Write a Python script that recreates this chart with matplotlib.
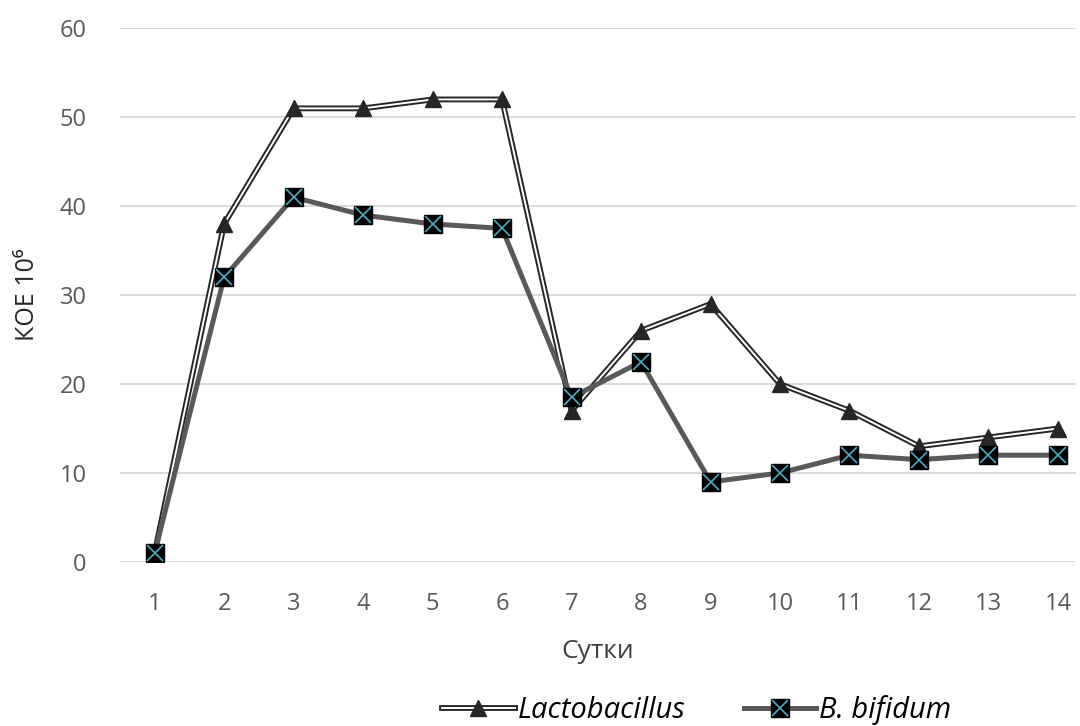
import matplotlib.pyplot as plt
from matplotlib.lines import Line2D
from matplotlib.legend_handler import HandlerTuple

days = list(range(1, 15))
lacto = [1, 38, 51, 51, 52, 52, 17, 26, 29, 20, 17, 13, 14, 15]
bifid = [1, 32, 41, 39, 38, 37.5, 18.5, 22.5, 9, 10, 12, 11.5, 12, 12]
yticks = [0, 10, 20, 30, 40, 50, 60]

plt.rcParams['font.family'] = ['Open Sans', 'DejaVu Sans']

fig = plt.figure(figsize=[10.8, 7.26], dpi=100)
ax = fig.add_axes([0.111, 0.226, 0.885, 0.735])

# Lactobacillus: double line (dark outer, white inner) with triangles
ax.plot(days, lacto, color='#262626', lw=4.2, zorder=3, solid_joinstyle='miter')
ax.plot(days, lacto, color='white', lw=1.4, zorder=4, solid_joinstyle='miter')
ax.plot(days, lacto, ls='none', marker='^', ms=12, color='#262626', zorder=5)

# B. bifidum: gray line with black square and teal cross
ax.plot(days, bifid, color='#595959', lw=3.6, zorder=6)
ax.plot(days, bifid, ls='none', marker='s', ms=13, color='black', zorder=7)
ax.plot(days, bifid, ls='none', marker='x', ms=11, mew=1.2, color='#4bacc6', zorder=8)

ax.set_xlim(0.5, 14.255)
ax.set_ylim(0, 60)
ax.set_xticks(days)
ax.set_yticks(yticks)
ax.tick_params(length=0, labelsize=17, labelcolor='#595959', pad=24)
ax.tick_params(axis='x', pad=22)
ax.grid(axis='y', color='#d4d4d4', lw=1.2)
ax.set_axisbelow(True)
for s in ax.spines.values():
    s.set_visible(False)

ax.set_xlabel('Сутки', fontsize=19, color='#404040', labelpad=16)
ax.set_ylabel('КОЕ 10⁶', fontsize=18, color='#262626', labelpad=14)

h1 = (Line2D([], [], color='#262626', lw=4.2),
      Line2D([], [], color='white', lw=1.4),
      Line2D([], [], ls='none', marker='^', ms=12, color='#262626'))
h2 = (Line2D([], [], color='#595959', lw=3.6),
      Line2D([], [], ls='none', marker='s', ms=13, color='black'),
      Line2D([], [], ls='none', marker='x', ms=11, mew=1.2, color='#4bacc6'))
fig.legend([h1, h2], ['Lactobacillus', 'B. bifidum'], ncol=2, frameon=False,
           loc='center', bbox_to_anchor=(0.645, 0.022),
           handler_map={tuple: HandlerTuple(ndivide=1)},
           handlelength=2.5, handletextpad=0.1, columnspacing=2.0,
           prop={'style': 'italic', 'size': 21})

fig.savefig('out.png', dpi=100)
